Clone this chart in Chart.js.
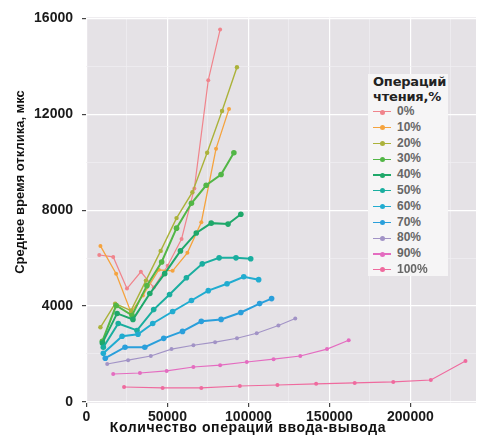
<!DOCTYPE html>
<html>
<head>
<meta charset="utf-8">
<script src="https://cdn.jsdelivr.net/npm/chart.js@4.4.0/dist/chart.umd.min.js"></script>
<style>
  body { margin: 0; background: #fff; }
  #wrap { position: relative; width: 480px; height: 435px; }
  #legend {
    position: absolute; left: 368px; top: 74px; width: 80px; height: 202px;
    background: #f6f5f6; box-sizing: border-box; padding-left: 5px;
  }
  #legend .title { font: bold 13px "DejaVu Sans"; line-height: 15px; color: #222; letter-spacing: -0.2px; }
  #legend .row { position: relative; height: 15.8px; }
  #legend .row .ln { position: absolute; left: 0; top: 7.3px; width: 18px; height: 1.2px; }
  #legend .row .dot { position: absolute; left: 6.5px; top: 5.5px; width: 5px; height: 5px; border-radius: 50%; }
  #legend .row .lbl { position: absolute; left: 24px; top: 0; font: bold 12px "Liberation Sans"; line-height: 15.8px; color: #666; }
</style>
</head>
<body>
<div id="wrap">
  <canvas id="chart" width="480" height="435"></canvas>
  <div id="legend"></div>
</div>
<script>
// доля операций чтения
const readPct = ['0%', '10%', '20%', '30%', '40%', '50%', '60%', '70%', '80%', '90%', '100%'];

// количество операций ввода-вывода (x) и среднее время отклика, мкс (y)
const iops0 = [7900, 16500, 25000, 33600, 41500, 50100, 58700, 66600, 75200, 82500];
const resp0 = [6130, 6050, 4730, 5430, 4770, 5680, 6800, 8910, 13430, 15540];
const iops10 = [8600, 18300, 27500, 34800, 44600, 53200, 62300, 70900, 80000, 88000];
const resp10 = [6510, 5350, 3730, 4440, 5510, 5470, 6220, 7500, 10570, 12230];
const iops20 = [8600, 17700, 27500, 36700, 45800, 55600, 65400, 74500, 83700, 92900];
const resp20 = [3110, 4100, 3810, 5060, 6300, 7670, 8750, 10400, 12140, 13970];
const iops30 = [9800, 18300, 28100, 37300, 46400, 55600, 64800, 73900, 83100, 91000];
const resp30 = [2530, 4020, 3610, 4850, 5840, 7250, 8290, 9040, 9490, 10400];
const iops40 = [9800, 18900, 28700, 39100, 48300, 58000, 67800, 77000, 87400, 95300];
const resp40 = [2450, 3690, 3440, 4520, 5350, 6300, 7050, 7460, 7420, 7830];
const iops50 = [10400, 19600, 31200, 41500, 51300, 61700, 71500, 81900, 92300, 101400];
const resp50 = [2280, 3270, 2980, 3850, 4480, 5180, 5760, 6010, 6010, 5970];
const iops60 = [10400, 22000, 31800, 40900, 53200, 64800, 75200, 86800, 97100, 106300];
const resp60 = [2030, 2740, 2820, 3270, 3770, 4230, 4640, 4930, 5220, 5100];
const iops70 = [11600, 23800, 36000, 47700, 59300, 70900, 83100, 95300, 106900, 114300];
const resp70 = [1820, 2280, 2280, 2650, 2940, 3360, 3440, 3730, 4100, 4310];
const iops80 = [12800, 25700, 39700, 52500, 66000, 79400, 92900, 105100, 118500, 128900];
const resp80 = [1580, 1740, 1910, 2200, 2360, 2490, 2650, 2860, 3190, 3480];
const iops90 = [16500, 33000, 49500, 66000, 82500, 99000, 115500, 132000, 148500, 161900];
const resp90 = [1160, 1200, 1290, 1450, 1530, 1660, 1780, 1910, 2200, 2570];
const iops100 = [23200, 47000, 70900, 94700, 117900, 141800, 165600, 189400, 212600, 234000];
const resp100 = [620, 580, 580, 660, 700, 750, 790, 830, 910, 1700];

const xTicksMajor = [0, 50000, 100000, 150000, 200000];
const xTicksMinor = [25000, 75000, 125000, 175000, 225000];
const yTicksMajor = [0, 4000, 8000, 12000, 16000];
const yTicksMinor = [2000, 6000, 10000, 14000];

const allIops = [iops0, iops10, iops20, iops30, iops40, iops50, iops60, iops70, iops80, iops90, iops100];
const allResp = [resp0, resp10, resp20, resp30, resp40, resp50, resp60, resp70, resp80, resp90, resp100];

const colors = ['#f0848c', '#f5a33e', '#abb23a', '#52b646', '#1fa86a', '#1aae9f',
                '#21acd0', '#2a9fdb', '#a293c6', '#e46cc0', '#ef6a9e'];
const widths = [1.2, 1.3, 1.4, 2, 2, 2, 2, 2, 1.1, 1.1, 1.1];
const radii = [2, 2, 2.2, 2.8, 2.8, 2.8, 2.8, 2.8, 2, 2, 2];

const datasets = readPct.map((name, i) => ({
    label: name,
    data: allIops[i].map((x, j) => ({ x: x, y: allResp[i][j] })),
    borderColor: colors[i],
    backgroundColor: colors[i],
    borderWidth: widths[i],
    pointRadius: radii[i],
    pointBorderWidth: 0,
    order: readPct.length - i,
    tension: 0
}));

// серый фон панели и подписи осей
const panel = {
    id: 'panel',
    beforeDraw(chart) {
        const { ctx, chartArea: a } = chart;
        ctx.save();
        ctx.fillStyle = '#e5e2e6';
        ctx.fillRect(a.left, a.top, a.right - a.left, a.bottom - a.top);
        ctx.restore();
    },
    afterDraw(chart) {
        const ctx = chart.ctx;
        ctx.save();
        ctx.fillStyle = '#111';
        ctx.textAlign = 'center';
        ctx.textBaseline = 'middle';
        ctx.font = 'bold 13px "Liberation Sans"';
        ctx.translate(20, 182);
        ctx.rotate(-Math.PI / 2);
        ctx.fillText('Среднее время отклика, мкс', 0, 0);
        ctx.restore();
        ctx.save();
        ctx.fillStyle = '#111';
        ctx.textAlign = 'center';
        ctx.textBaseline = 'middle';
        ctx.font = 'bold 14px "Liberation Sans"';
        ctx.letterSpacing = '0.6px';
        ctx.fillText('Количество операций ввода-вывода', 248, 428);
        ctx.restore();
    }
};

const isMajor = (list, v) => list.includes(v);
const setTicks = list => scale => {
    scale.ticks = list.slice().sort((a, b) => a - b).map(v => ({ value: v }));
};

new Chart(document.getElementById('chart'), {
    type: 'line',
    data: { datasets: datasets },
    plugins: [panel],
    options: {
        responsive: false,
        animation: false,
        layout: { padding: { top: 14, right: 0, left: 0, bottom: 0 } },
        plugins: { legend: { display: false }, tooltip: { enabled: false } },
        scales: {
            x: {
                type: 'linear',
                min: -300,
                max: 240500,
                border: { display: false },
                afterBuildTicks: setTicks(xTicksMajor.concat(xTicksMinor)),
                afterFit: s => { s.height = 32; },
                grid: {
                    color: ctx => isMajor(xTicksMajor, ctx.tick.value) ? '#ffffff' : '#f1eff2',
                    lineWidth: ctx => isMajor(xTicksMajor, ctx.tick.value) ? 1.2 : 0.7,
                    tickColor: ctx => isMajor(xTicksMajor, ctx.tick.value) ? '#444' : 'rgba(0,0,0,0)',
                    tickLength: 4
                },
                ticks: {
                    autoSkip: false,
                    maxRotation: 0,
                    padding: 2,
                    color: '#1a1a1a',
                    font: { family: 'Liberation Sans', size: 14, weight: 'bold' },
                    callback: v => isMajor(xTicksMajor, v) ? String(v) : ''
                }
            },
            y: {
                type: 'linear',
                min: -50,
                max: 16050,
                border: { display: false },
                afterBuildTicks: setTicks(yTicksMajor.concat(yTicksMinor)),
                afterFit: s => { s.width = 86; },
                grid: {
                    color: ctx => isMajor(yTicksMajor, ctx.tick.value) ? '#ffffff' : '#f1eff2',
                    lineWidth: ctx => isMajor(yTicksMajor, ctx.tick.value) ? 1.2 : 0.7,
                    tickColor: ctx => isMajor(yTicksMajor, ctx.tick.value) ? '#444' : 'rgba(0,0,0,0)',
                    tickLength: 4
                },
                ticks: {
                    autoSkip: false,
                    padding: 9,
                    color: '#1a1a1a',
                    font: { family: 'Liberation Sans', size: 14, weight: 'bold' },
                    callback: v => isMajor(yTicksMajor, v) ? String(v) : ''
                }
            }
        }
    }
});

// легенда
const legend = document.getElementById('legend');
let html = '<div class="title">Операций<br>чтения,%</div>';
readPct.forEach((name, i) => {
    html += '<div class="row"><span class="ln" style="background:' + colors[i] + '"></span>' +
            '<span class="dot" style="background:' + colors[i] + '"></span>' +
            '<span class="lbl">' + name + '</span></div>';
});
legend.innerHTML = html;
</script>
</body>
</html>
